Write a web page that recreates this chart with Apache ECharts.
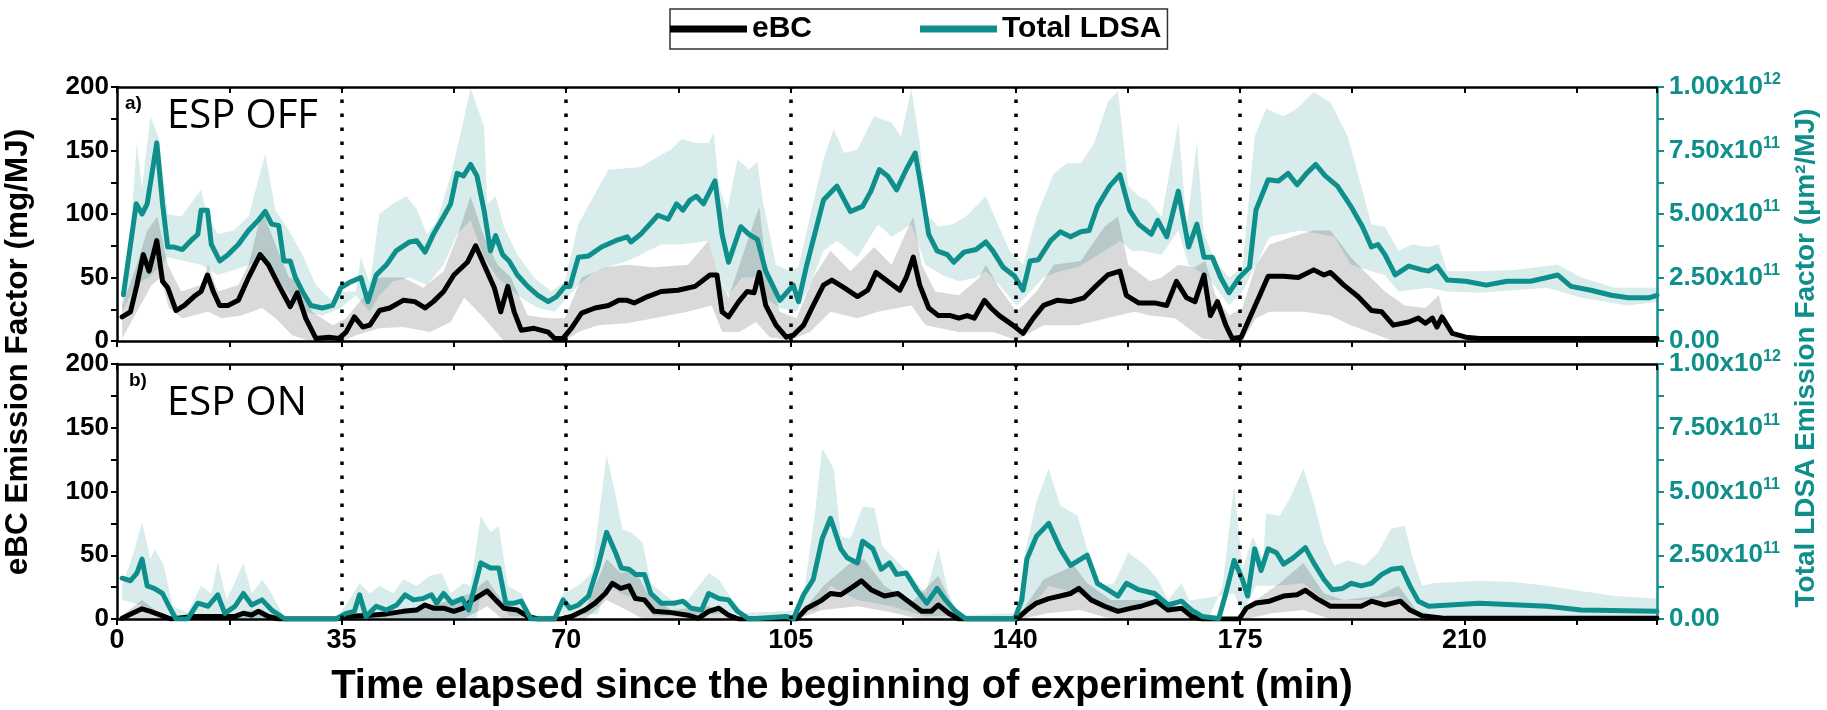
<!DOCTYPE html>
<html>
<head>
<meta charset="utf-8">
<script src="https://cdn.jsdelivr.net/npm/echarts@6/dist/echarts.min.js"></script>
<style>
  html, body { margin: 0; padding: 0; background: #fff; }
  #chart { width: 1827px; height: 710px; }
</style>
</head>
<body>
<div id="chart"></div>
<script>
// ---------- DATA (x = minutes; eBC in mg/MJ; LDSA in units of 1e11 µm²/MJ) ----------
const xLabels = [0, 35, 70, 105, 140, 175, 210];
const phaseLines = [35, 70, 105, 140, 175];
const leftTicks = [0, 50, 100, 150, 200];
const rightTicks = [0, 2.5, 5, 7.5, 10];

// Panel a) ESP OFF
const ebcA = [[0.8,19],[2.1,23],[3.1,44],[4.1,68],[5.0,55],[6.2,79],[7.1,47],[7.9,42],[9.2,24],[10.5,28],[12.0,35],[13.1,39],[14.1,52],[15.0,39],[16.0,28],[17.3,28],[18.9,32],[20.5,50],[22.3,68],[23.6,60],[25.2,44],[27.0,27],[28.1,38],[29.4,18],[31.0,2],[33.0,3],[34.6,2],[35.7,7],[37.0,19],[38.3,11],[39.4,12.5],[40.9,24],[42.5,26],[44.6,32],[46.4,31],[48.0,26],[49.3,31],[50.9,39],[52.5,52],[54.6,62],[55.9,75],[57.2,60],[58.8,42],[59.8,23],[60.9,43],[61.9,23],[63.0,8.5],[65.0,10],[67.2,7],[68.2,2],[69.5,2],[70.8,10],[72.4,22],[74.5,26],[76.6,28],[78.2,32],[79.5,32],[80.6,30],[82.7,35],[84.8,39],[87.4,40],[90.1,43],[92.4,52],[93.5,52],[94.3,23],[95.3,19],[96.9,31],[98.2,39],[99.3,38],[100.1,54],[101.1,28],[102.7,12.5],[104.3,3],[105.4,4.5],[107.0,12.5],[108.5,28],[110.1,44],[111.4,48],[113.3,42],[115.4,35],[117.0,40],[118.3,54],[120.1,47],[122.0,40],[123.0,50],[124.1,66],[125.1,44],[126.5,26],[128.0,20],[129.9,20],[131.2,18],[132.5,20],[133.6,18],[135.2,32],[136.2,26],[137.5,20],[139.6,12.5],[141.2,6],[142.8,18],[144.4,28],[146.5,32],[148.6,31],[150.7,34],[152.3,42],[154.4,52],[156.3,55],[157.3,36],[159.2,30],[161.7,30],[163.6,28],[165.1,47],[166.7,34],[168.0,31],[169.4,52],[170.4,20],[171.5,31],[172.8,12.5],[173.8,2],[175.2,3],[176.5,18],[178.1,36],[179.4,51],[181.8,51],[184.1,50],[186.5,56],[188.1,52],[189.1,54],[191.2,44],[193.4,35],[195.5,24],[197.1,23],[198.9,12.5],[201.3,15],[202.8,18],[203.9,14],[205.0,18],[205.7,11],[206.5,19],[208.1,6],[210.2,3],[212.3,2],[225.0,2],[240.0,2]];
const ldsaA = [[1.0,1.82],[3.0,5.4],[3.9,5.0],[4.7,5.4],[6.2,7.8],[7.1,5.4],[7.9,3.7],[8.9,3.7],[10.2,3.6],[11.5,3.95],[12.6,4.2],[13.1,5.15],[14.1,5.15],[14.7,3.8],[16.0,3.15],[17.3,3.4],[18.9,3.8],[20.5,4.35],[22.0,4.75],[23.1,5.1],[24.1,4.6],[25.2,4.55],[26.0,3.15],[27.0,3.15],[27.8,2.5],[28.9,1.95],[30.2,1.4],[32.0,1.3],[33.6,1.4],[34.9,2.1],[36.2,2.3],[38.0,2.5],[39.1,1.55],[40.4,2.6],[42.0,3.0],[43.5,3.55],[45.6,3.9],[46.7,3.95],[48.0,3.5],[49.3,4.2],[50.9,4.9],[52.0,5.4],[53.0,6.6],[54.0,6.5],[55.1,6.95],[56.1,6.5],[57.2,5.15],[58.2,3.55],[59.0,4.15],[60.1,3.4],[61.1,3.15],[62.4,2.6],[64.0,2.15],[65.6,1.8],[67.2,1.55],[68.5,1.75],[69.8,2.15],[70.6,2.15],[71.9,3.3],[73.5,3.35],[75.5,3.7],[77.7,3.95],[79.5,4.1],[80.1,3.9],[81.6,4.2],[84.3,4.95],[85.9,4.8],[87.2,5.4],[88.2,5.15],[89.3,5.55],[90.3,5.7],[91.4,5.4],[93.2,6.3],[94.3,4.2],[95.3,3.1],[97.2,4.5],[98.5,4.2],[99.8,4.0],[101.1,2.75],[103.3,1.6],[105.4,2.2],[106.2,1.55],[107.5,3.0],[110.1,5.55],[112.2,6.1],[114.3,5.1],[116.2,5.3],[117.5,5.9],[118.8,6.75],[120.1,6.5],[121.5,5.95],[123.0,6.75],[124.4,7.4],[125.4,5.95],[126.5,4.2],[127.8,3.55],[129.4,3.4],[130.4,3.1],[132.0,3.5],[133.9,3.6],[135.4,3.9],[136.5,3.55],[138.1,2.9],[139.9,2.55],[141.2,2.0],[142.3,3.15],[143.6,3.2],[145.5,3.95],[147.0,4.3],[148.6,4.1],[150.2,4.3],[151.5,4.35],[152.8,5.3],[154.7,6.1],[156.3,6.55],[157.8,5.15],[159.2,4.6],[161.2,4.2],[162.2,4.75],[163.6,4.1],[165.4,5.9],[167.0,3.7],[168.3,4.6],[169.4,3.3],[170.7,3.3],[172.0,2.5],[173.3,1.9],[174.9,2.5],[176.5,2.9],[177.5,5.15],[179.4,6.35],[181.0,6.3],[182.5,6.6],[183.9,6.15],[185.4,6.6],[186.8,6.95],[188.3,6.5],[190.2,6.1],[192.3,5.3],[194.1,4.5],[195.5,3.7],[196.5,3.8],[197.6,3.4],[199.2,2.6],[201.3,2.95],[203.4,2.8],[204.4,2.75],[205.7,2.95],[207.3,2.4],[210.2,2.35],[213.4,2.2],[216.6,2.35],[220.3,2.35],[222.9,2.5],[224.5,2.6],[226.6,2.15],[229.7,2.0],[232.9,1.8],[235.5,1.7],[238.7,1.7],[240.0,1.8]];
const ebcAHi = [[0.8,28],[3.1,60],[4.7,87],[6.3,98],[7.9,60],[10.0,39],[13.1,44],[14.2,60],[15.7,39],[18.9,44],[20.5,60],[22.6,103],[24.7,76],[26.8,50],[28.3,47],[30.4,23],[33.6,12.5],[35.7,18],[38.3,34],[40.9,50],[44.6,50],[47.7,42],[50.9,55],[53.0,82],[55.1,114],[57.2,82],[59.3,60],[61.4,50],[64.0,20],[67.2,18],[69.8,18],[72.4,50],[76.1,58],[79.5,60],[83.7,58],[89.0,60],[92.2,79],[93.8,50],[95.3,34],[97.4,66],[100.1,106],[101.1,60],[103.3,23],[105.9,18],[108.5,50],[111.2,71],[114.3,55],[118.0,74],[120.7,60],[124.1,98],[125.4,60],[127.5,39],[131.2,36],[134.4,50],[135.4,60],[137.5,42],[140.2,23],[143.3,39],[146.0,60],[150.2,63],[153.9,90],[156.0,98],[157.6,60],[161.0,47],[162.8,50],[165.4,60],[168.0,58],[169.6,63],[171.2,36],[173.3,20],[175.4,26],[177.5,60],[179.6,76],[184.4,84],[186.5,87],[189.1,87],[192.3,66],[194.4,55],[197.6,39],[200.7,28],[203.9,26],[206.0,36],[207.1,12.5],[209.2,2],[240.0,2]];
const ebcALo = [[0.8,2],[3.1,23],[5.4,44],[6.8,50],[8.1,26],[10.2,18],[14.2,23],[16.3,18],[19.4,20],[22.6,26],[24.7,18],[27.3,4.5],[30.0,0],[35.2,0],[37.3,4.5],[40.9,10],[44.6,11],[48.8,7],[52.0,15],[54.1,34],[55.7,26],[57.2,18],[60.3,0],[69.8,0],[71.9,7],[75.0,12.5],[79.5,14],[83.7,18],[88.9,23],[92.7,28],[94.3,7],[97.0,7],[99.6,15],[101.7,3],[104.8,0.5],[108.0,7],[111.2,23],[115.4,18],[118.6,23],[123.8,28],[126.0,12.5],[131.2,7],[136.5,7],[140.2,0.5],[144.4,12.5],[149.7,12.5],[156.0,20],[158.6,23],[161.0,20],[164.9,18],[169.1,2],[172.3,0],[175.4,0],[177.5,18],[179.6,23],[184.9,23],[189.1,20],[192.3,12.5],[196.5,4.5],[198.6,0.5],[240.0,0]];
const ldsaAHi = [[0.8,2.25],[2.0,4.0],[3.1,7.8],[3.9,6.0],[5.2,8.85],[6.5,8.0],[7.9,5.0],[10.0,4.9],[13.1,5.95],[14.0,5.0],[15.7,4.2],[18.2,4.35],[20.5,4.9],[23.1,7.35],[24.7,5.15],[26.8,4.35],[28.9,3.4],[31.0,2.2],[33.6,1.55],[34.9,1.95],[37.2,1.95],[38.0,3.3],[39.4,2.25],[40.9,5.0],[43.0,5.4],[45.1,5.7],[46.7,5.2],[48.3,4.2],[49.8,4.7],[52.0,6.5],[53.8,8.45],[55.1,9.95],[57.2,8.45],[57.7,5.4],[59.0,5.7],[60.3,4.5],[62.4,3.4],[65.0,2.5],[67.7,1.95],[69.8,2.35],[71.9,4.6],[74.5,5.8],[76.6,6.75],[79.5,6.8],[81.6,6.85],[84.3,7.25],[86.4,7.55],[88.0,7.95],[90.1,7.8],[92.2,7.8],[93.0,8.2],[93.8,6.1],[95.1,5.15],[96.7,7.15],[98.5,6.75],[99.8,7.05],[100.6,5.55],[102.7,3.0],[104.8,2.75],[106.2,2.9],[108.0,4.9],[110.1,7.15],[111.7,8.35],[113.3,7.4],[115.4,7.55],[118.0,8.85],[120.7,8.6],[122.2,8.05],[123.8,9.95],[125.1,7.8],[126.2,5.0],[128.0,4.5],[130.2,4.6],[132.3,4.9],[135.4,5.7],[137.0,4.75],[139.1,3.55],[141.2,3.0],[143.3,4.9],[146.0,6.6],[148.1,7.0],[150.2,7.0],[152.3,7.8],[154.4,9.4],[156.0,9.85],[157.6,6.1],[159.2,5.7],[160.5,5.55],[162.8,4.9],[165.4,8.6],[166.7,4.5],[168.3,7.8],[169.4,4.2],[171.2,3.15],[173.3,2.5],[175.4,2.9],[177.3,8.05],[179.1,9.15],[181.8,8.85],[183.9,9.15],[186.5,9.8],[189.1,9.4],[191.8,8.05],[193.9,6.1],[195.5,4.6],[197.6,4.5],[199.7,3.55],[201.8,3.8],[204.4,3.7],[206.0,3.8],[207.3,2.75],[212.3,2.75],[217.6,2.8],[224.5,3.0],[228.2,2.5],[233.4,2.1],[240.0,2.1]];
const ldsaALo = [[0.8,1.15],[3.0,2.25],[5.0,2.5],[7.9,3.3],[13.1,3.0],[15.7,2.6],[20.8,3.0],[23.1,3.3],[25.7,2.2],[28.9,1.15],[32.0,1.0],[34.9,1.3],[37.2,1.8],[39.4,1.15],[40.9,1.8],[43.0,2.35],[45.6,2.5],[48.3,2.2],[50.9,3.0],[53.0,4.2],[55.1,4.75],[57.2,3.3],[59.3,2.5],[62.4,1.8],[65.6,1.3],[68.2,1.15],[71.9,2.2],[74.5,2.75],[79.5,3.15],[81.6,3.4],[84.8,3.8],[88.0,3.8],[92.2,3.95],[93.8,2.5],[95.3,1.8],[97.4,2.5],[99.6,2.5],[101.1,1.7],[103.3,1.3],[105.9,1.15],[108.0,2.2],[110.1,3.55],[112.2,3.95],[115.4,3.3],[118.6,4.6],[120.7,4.1],[123.8,4.6],[126.0,3.0],[128.6,2.6],[131.2,2.35],[133.9,2.5],[135.4,2.75],[137.5,2.2],[140.2,1.4],[141.8,1.8],[144.4,2.5],[147.0,2.75],[149.7,2.9],[152.3,3.3],[154.9,3.7],[156.3,3.95],[158.1,3.55],[159.6,3.55],[162.8,3.4],[165.4,4.35],[167.0,3.0],[170.1,2.5],[173.3,1.4],[175.4,1.95],[177.5,3.0],[179.6,4.1],[184.4,4.35],[189.7,4.1],[192.3,3.0],[195.5,2.75],[197.6,2.6],[199.7,1.95],[204.4,2.1],[207.3,1.95],[212.3,1.9],[222.9,2.1],[228.2,1.7],[235.5,1.4],[240.0,1.55]];

// Panel b) ESP ON
const ebcB = [[0.8,0.5],[2.4,4.5],[3.9,8],[5.2,6],[6.8,3],[8.4,0],[12.0,2],[18.4,2],[19.7,4.5],[21.0,3],[22.0,6],[23.6,2],[25.2,0],[34.1,0],[35.7,2],[39.4,3],[42.0,4],[44.6,6],[46.7,7],[48.0,11],[49.3,8.5],[50.9,8.5],[52.5,6],[54.0,8.5],[55.1,14],[56.7,19],[57.7,22],[59.0,15],[60.3,8.5],[62.4,7],[64.0,2],[65.6,0],[69.2,0],[70.8,2],[72.9,7],[74.5,12.5],[76.1,20],[77.2,28],[78.5,24],[79.8,26],[80.8,16],[82.2,15],[83.7,6],[86.4,5],[89.0,3],[90.6,0.5],[92.2,6],[93.8,8.5],[95.3,3],[96.9,0],[105.9,0],[107.5,8.5],[109.6,14],[111.2,20],[112.8,19],[114.9,26],[116.0,30],[117.5,23],[119.6,18],[121.7,20],[123.3,14],[125.4,6],[126.9,6],[128.0,11],[129.6,4.5],[131.2,0],[140.2,0],[141.8,7],[143.3,12.5],[145.2,16],[147.0,18],[148.6,20],[149.9,24],[151.8,15],[153.9,10],[156.0,6],[158.1,8.5],[159.6,10],[162.0,14],[163.8,7],[165.9,8.5],[167.5,2],[169.1,0],[174.9,0],[176.0,8.5],[177.5,12.5],[179.6,14],[181.8,18],[183.9,19],[185.2,22.5],[187.0,16],[189.1,10],[193.9,10],[195.5,14],[197.6,11],[200.0,14],[201.5,7],[203.4,2.5],[207.0,0.5],[240.0,0.5]];
const ldsaB = [[0.8,1.6],[2.1,1.5],[3.1,1.8],[3.9,2.35],[4.7,1.3],[5.8,1.2],[7.1,1.0],[8.1,0.5],[9.2,0],[11.0,0],[12.6,0.62],[14.2,0.5],[15.7,0.95],[16.8,0.22],[18.4,0.5],[19.7,1.0],[21.0,0.55],[22.6,0.75],[24.1,0.35],[26.2,0],[34.1,0],[35.7,0.22],[37.0,0.3],[37.8,0.95],[38.8,0.1],[40.4,0.5],[42.0,0.35],[43.6,0.55],[44.9,0.95],[46.2,0.75],[47.7,0.8],[49.0,0.95],[49.8,0.62],[50.9,1.0],[52.2,0.62],[53.8,0.8],[54.8,0.35],[56.7,2.2],[58.2,2.0],[59.5,2.0],[60.6,0.62],[61.9,0.62],[63.0,0.7],[64.5,0],[68.2,0],[69.5,0.75],[70.6,0.42],[71.9,0.55],[73.5,0.9],[75.0,2.1],[76.3,3.4],[77.7,2.6],[78.6,2.0],[79.8,1.95],[80.8,1.75],[82.2,1.75],[83.2,1.0],[84.8,0.62],[86.9,0.62],[88.2,0.7],[89.5,0.42],[91.1,0.35],[92.2,1.0],[93.8,0.8],[95.3,0.75],[96.7,0.3],[98.5,0],[104.3,0.1],[105.4,0],[107.0,0.95],[108.5,1.55],[109.9,3.15],[111.2,3.95],[112.8,2.75],[113.8,2.4],[115.4,2.2],[116.2,3.05],[117.8,2.75],[119.1,1.95],[120.4,2.2],[121.5,1.75],[123.0,1.8],[124.6,1.15],[126.2,0.62],[127.8,1.2],[129.1,0.75],[130.7,0.3],[132.3,0],[139.9,0],[141.0,0.75],[141.8,2.35],[143.3,3.25],[145.2,3.75],[147.0,2.75],[148.6,2.1],[151.2,2.5],[152.8,1.4],[154.4,1.15],[156.0,0.9],[157.3,1.4],[159.2,1.15],[161.7,1.0],[163.8,0.55],[165.9,0.7],[167.5,0.35],[169.1,0.1],[171.7,0.02],[172.8,1.0],[174.1,2.3],[175.4,1.55],[176.2,0.9],[177.3,2.75],[178.3,1.9],[179.4,2.75],[180.7,2.6],[181.8,2.15],[183.3,2.4],[185.2,2.8],[186.5,2.2],[188.1,1.55],[189.4,1.15],[191.0,1.2],[192.3,1.4],[193.9,1.3],[195.5,1.4],[197.1,1.75],[198.6,1.95],[200.2,2.0],[201.5,1.3],[202.8,0.7],[204.4,0.5],[212.3,0.62],[222.9,0.5],[228.2,0.35],[240.0,0.3]];
const ebcBHi = [[0.8,3],[3.9,15],[6.5,5],[8.0,0],[18.0,3],[20.0,6],[22.5,8],[25.0,0],[35.0,0],[45.0,8],[50.0,12],[55.1,20],[57.7,31],[60.3,12],[64.5,0],[70.0,0],[73.0,8],[76.3,47],[78.5,36],[80.6,39],[82.7,20],[86.4,7],[92.2,10],[96.9,0],[105.9,0],[110.1,26],[114.3,44],[116.4,47],[119.6,26],[123.8,13],[128.0,34],[131.2,0],[140.2,0],[144.4,31],[149.1,42],[151.2,28],[154.9,15],[161.0,15],[164.9,10],[169.1,0],[175.4,0],[177.5,15],[181.2,28],[184.9,44],[188.1,20],[191.2,15],[196.5,18],[199.7,26],[201.8,12],[203.4,0],[240.0,0]];
const ebcBLo = [[0.8,0],[54.0,0],[57.7,10],[60.0,0],[73.0,0],[76.3,15],[79.0,8],[82.0,0],[106.0,0],[109.9,7],[115.4,10],[121.0,5],[125.0,0],[141.0,0],[145.0,4.5],[150.0,7],[155.0,0],[176.0,0],[180.0,4.5],[184.9,7],[189.0,0],[240.0,0]];
const ldsaBHi = [[0.8,1.3],[2.6,2.6],[3.9,3.8],[5.2,2.35],[5.9,2.75],[7.3,2.1],[8.7,0.5],[11.0,0.25],[13.1,1.3],[14.7,1.0],[15.7,2.2],[17.1,0.75],[19.7,2.2],[21.0,1.0],[22.6,1.55],[24.1,1.0],[26.2,0],[34.1,0],[36.2,0.75],[37.8,1.4],[39.4,1.0],[40.9,1.3],[43.0,1.0],[44.6,1.55],[46.7,1.3],[48.8,1.7],[50.6,1.8],[52.0,1.0],[54.0,1.4],[55.1,1.3],[56.7,4.05],[58.2,3.4],[59.5,3.65],[60.9,1.3],[63.0,1.0],[64.5,0.1],[68.2,0],[69.5,1.0],[71.9,1.3],[74.0,1.8],[76.3,6.45],[77.7,4.85],[78.8,3.5],[80.1,3.4],[81.9,3.0],[83.2,1.4],[86.4,0.75],[89.0,0.75],[92.2,1.8],[93.8,1.55],[95.9,0.75],[98.5,0],[104.8,0],[107.2,1.3],[108.8,4.2],[109.9,6.7],[111.7,5.9],[112.8,3.25],[114.3,3.15],[116.2,4.4],[118.0,4.35],[119.3,2.85],[121.2,2.35],[123.8,1.7],[126.0,1.0],[128.0,2.75],[129.6,1.0],[131.2,0.1],[140.2,0],[141.5,2.6],[143.3,4.6],[145.2,5.9],[147.0,4.45],[149.7,4.05],[151.2,2.75],[153.3,1.3],[155.4,1.4],[157.6,2.6],[160.3,2.1],[162.2,1.55],[163.8,0.75],[165.9,1.4],[167.5,0.5],[170.1,0],[172.3,1.3],[174.1,5.25],[175.4,1.95],[177.0,3.25],[178.6,2.35],[179.1,4.15],[181.2,4.05],[182.8,4.75],[184.9,5.9],[186.5,4.6],[188.1,3.0],[189.7,2.1],[191.8,2.3],[194.4,2.1],[196.5,2.6],[198.6,3.55],[200.7,3.65],[201.8,2.5],[203.4,1.3],[205.0,1.4],[212.3,1.5],[217.6,1.45],[222.9,1.3],[228.2,1.1],[233.4,0.9],[240.0,0.8]];
const ldsaBLo = [[0.8,0.75],[3.0,0.6],[6.5,0.3],[8.4,0],[56.0,0],[56.7,1.0],[59.5,0.75],[61.2,0.1],[75.0,0.2],[76.3,1.4],[78.5,1.0],[81.6,0.75],[83.7,0.1],[109.0,0.35],[111.2,1.3],[115.4,0.75],[120.7,0.5],[126.0,0.1],[141.8,0.25],[145.2,1.3],[149.7,1.0],[154.9,0.25],[174.1,1.0],[175.4,0.2],[177.5,1.3],[180.7,1.3],[184.9,1.4],[188.1,0.75],[193.9,0.75],[199.7,0.9],[202.8,0.1],[240.0,0.1]];

// ---------- STYLE ----------
const TEAL = '#0f8f8b';
const NARROW = "'Liberation Sans Narrow', 'Liberation Sans', Arial, sans-serif";
const SANS = "'Liberation Sans', Arial, sans-serif";
const GRID_LEFT = 117, GRID_RIGHT = 170;

function bandSeries(name, hi, lo, xi, yi, fill) {
  return {
    type: 'custom', name: name, xAxisIndex: xi, yAxisIndex: yi, silent: true, z: 1,
    data: [[hi[0][0], hi[0][1]]],
    renderItem: function (params, api) {
      const pts = hi.map(p => api.coord(p)).concat(lo.slice().reverse().map(p => api.coord(p)));
      return { type: 'polygon', shape: { points: pts }, style: { fill: fill } };
    }
  };
}

function lineSeries(name, data, xi, yi, color, z, withMarks) {
  const s = {
    type: 'line', name: name, data: data, xAxisIndex: xi, yAxisIndex: yi,
    showSymbol: false, symbol: 'none', color: color, z: z,
    lineStyle: { color: color, width: 5, join: 'round', cap: 'round' }, silent: true
  };
  if (withMarks) {
    s.markLine = {
      silent: true, symbol: ['none', 'none'], label: { show: false },
      lineStyle: { color: '#000', width: 3.5, type: [3.5, 10.5] },
      data: phaseLines.map(v => ({ xAxis: v }))
    };
  }
  return s;
}

function bottomX(grid, showLabels) {
  return {
    type: 'value', gridIndex: grid, min: 0, max: 240, interval: 17.5, position: 'bottom',
    axisLine: { show: true, onZero: false, lineStyle: { color: '#000', width: 2.5 } },
    axisTick: { show: true, inside: false, length: 6, lineStyle: { color: '#000', width: 2 } },
    splitLine: { show: false },
    axisLabel: {
      show: showLabels, margin: 8, color: '#000', fontFamily: NARROW, fontWeight: 'bold', fontSize: 27,
      formatter: v => xLabels.includes(v) ? String(v) : ''
    }
  };
}
function topX(grid) {
  return {
    type: 'value', gridIndex: grid, min: 0, max: 240, interval: 17.5, position: 'top',
    axisLine: { show: true, onZero: false, lineStyle: { color: '#000', width: 2.5 } },
    axisTick: { show: true, inside: true, length: 6, lineStyle: { color: '#000', width: 2 } },
    splitLine: { show: false }, axisLabel: { show: false }
  };
}
function leftY(grid) {
  return {
    type: 'value', gridIndex: grid, min: 0, max: 200, interval: 50, position: 'left',
    axisLine: { show: true, onZero: false, lineStyle: { color: '#000', width: 2.5 } },
    axisTick: { show: true, inside: false, length: 6, lineStyle: { color: '#000', width: 2 } },
    minorTick: { show: true, splitNumber: 2, length: 6, lineStyle: { color: '#000', width: 2 } },
    splitLine: { show: false }, minorSplitLine: { show: false },
    axisLabel: {
      margin: 8, color: '#000', fontFamily: NARROW, fontWeight: 'bold', fontSize: 26,
      formatter: v => leftTicks.includes(v) ? String(v) : ''
    }
  };
}
function rightY(grid) {
  return {
    type: 'value', gridIndex: grid, min: 0, max: 10, interval: 2.5, position: 'right',
    axisLine: { show: true, onZero: false, lineStyle: { color: TEAL, width: 2.5 } },
    axisTick: { show: true, inside: false, length: 7, lineStyle: { color: TEAL, width: 2 } },
    minorTick: { show: true, splitNumber: 2, length: 7, lineStyle: { color: TEAL, width: 2 } },
    splitLine: { show: false }, minorSplitLine: { show: false },
    axisLabel: {
      margin: 12, color: TEAL, fontFamily: NARROW, fontWeight: 'bold', fontSize: 26,
      formatter: function (v) {
        if (!rightTicks.includes(v)) return '';
        if (v === 0) return '{n|0.00}';
        const exp = v >= 10 ? 12 : 11;
        const man = v >= 10 ? v / 10 : v;
        return '{n|' + man.toFixed(2) + 'x10}{s|' + exp + '}';
      },
      rich: {
        n: { fontFamily: NARROW, fontWeight: 'bold', fontSize: 26, color: TEAL, lineHeight: 30 },
        s: { fontFamily: NARROW, fontWeight: 'bold', fontSize: 16, color: TEAL, verticalAlign: 'top', lineHeight: 14 }
      }
    }
  };
}

const chart = echarts.init(document.getElementById('chart'), null, { renderer: 'canvas' });
chart.setOption({
  animation: false,
  backgroundColor: '#fff',
  legend: {
    left: 670, top: 9, orient: 'horizontal',
    data: ['eBC', 'Total LDSA'], icon: 'rect', itemWidth: 77, itemHeight: 7, itemGap: 108,
    padding: [5, 6, 5, 0], borderColor: '#333', borderWidth: 1.5,
    textStyle: { fontFamily: SANS, fontWeight: 'bold', fontSize: 30, color: '#000' }
  },
  grid: [
    { left: GRID_LEFT, right: GRID_RIGHT, top: 87, height: 254 },
    { left: GRID_LEFT, right: GRID_RIGHT, top: 364, height: 255 }
  ],
  xAxis: [bottomX(0, false), topX(0), bottomX(1, true), topX(1)],
  yAxis: [leftY(0), rightY(0), leftY(1), rightY(1)],
  series: [
    bandSeries('ldsaBandA', ldsaAHi, ldsaALo, 0, 1, 'rgba(15,143,139,0.17)'),
    bandSeries('ebcBandA', ebcAHi, ebcALo, 0, 0, 'rgba(0,0,0,0.15)'),
    lineSeries('eBC', ebcA, 0, 0, '#000', 3, true),
    lineSeries('Total LDSA', ldsaA, 0, 1, TEAL, 4, false),
    bandSeries('ldsaBandB', ldsaBHi, ldsaBLo, 2, 3, 'rgba(15,143,139,0.17)'),
    bandSeries('ebcBandB', ebcBHi, ebcBLo, 2, 2, 'rgba(0,0,0,0.15)'),
    lineSeries('eBC', ebcB, 2, 2, '#000', 3, true),
    lineSeries('Total LDSA', ldsaB, 2, 3, TEAL, 4, false)
  ],
  graphic: [
    { type: 'text', left: 125, top: 94, style: { text: 'a)', font: "bold 19px 'Liberation Sans', Arial, sans-serif", fill: '#000' } },
    { type: 'text', x: 167, y: 116.5, style: { text: 'ESP OFF', font: "40px 'Open Sans', 'Noto Sans', sans-serif", fill: '#000', textVerticalAlign: 'middle' } },
    { type: 'text', left: 129, top: 371, style: { text: 'b)', font: "bold 19px 'Liberation Sans', Arial, sans-serif", fill: '#000' } },
    { type: 'text', x: 167, y: 404, style: { text: 'ESP ON', font: "40px 'Open Sans', 'Noto Sans', sans-serif", fill: '#000', textVerticalAlign: 'middle' } },
    { type: 'text', x: 842, y: 687, style: { text: 'Time elapsed since the beginning of experiment (min)', font: "bold 40px 'Liberation Sans', Arial, sans-serif", fill: '#000', textAlign: 'center', textVerticalAlign: 'middle' } },
    { type: 'text', x: 18, y: 352, rotation: Math.PI / 2, style: { text: 'eBC Emission Factor (mg/MJ)', font: "bold 31.5px 'Liberation Sans', Arial, sans-serif", fill: '#000', textAlign: 'center', textVerticalAlign: 'middle' } },
    { type: 'text', x: 1806, y: 358, rotation: Math.PI / 2, style: { text: 'Total LDSA Emission Factor (\u03bcm\u00b2/MJ)', font: "bold 28px 'Liberation Sans', Arial, sans-serif", fill: TEAL, textAlign: 'center', textVerticalAlign: 'middle' } }
  ]
});
</script>
</body>
</html>
